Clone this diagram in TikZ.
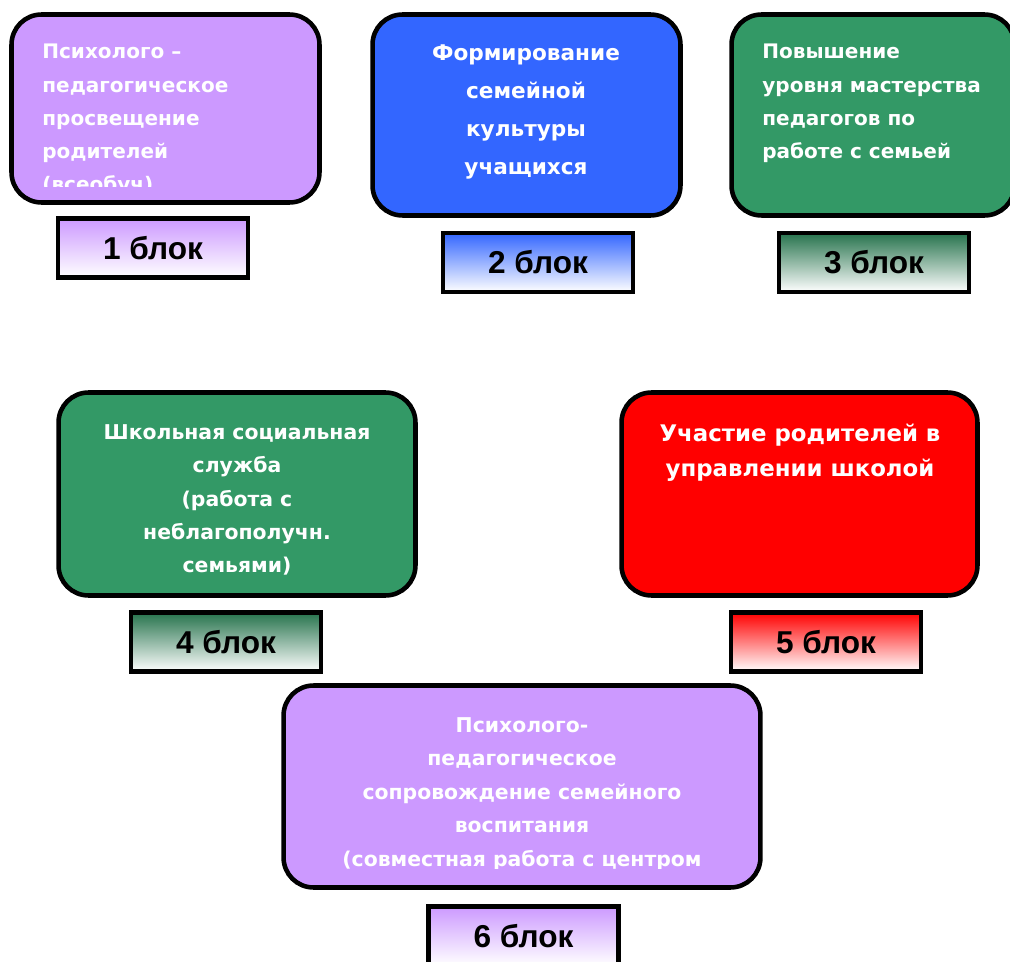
\documentclass[tikz,border=0pt]{standalone}
\usepackage{fontspec}
\newfontfamily\blockfont{DejaVu Sans}
\newfontfamily\tagfont{Liberation Sans}
\definecolor{lilac}{HTML}{CC99FF}
\definecolor{royal}{HTML}{3366FF}
\definecolor{sea}{HTML}{339966}
\definecolor{scarlet}{HTML}{FF0000}

\begin{document}
\begin{tikzpicture}[x=0.02cm,y=-0.02cm]
    \tikzstyle{blockbox}=[rectangle, rounded corners=0.6cm, draw=black, line width=2.6pt, inner sep=0pt]
    \tikzstyle{blocktext}=[inner sep=0pt, text=white, font=\blockfont\bfseries\fontsize{11.4}{18.9}\selectfont]
    \tikzstyle{tagbox}=[rectangle, draw=black, line width=2.6pt, minimum width=3.8cm, minimum height=1.18cm, bottom color=white, font=\tagfont\bfseries\fontsize{18}{20}\selectfont]

    \useasboundingbox (0,0) rectangle (1010,962);

    % top row
    \node[blockbox, fill=lilac, minimum width=6.16cm, minimum height=3.76cm] (b1) at (165.5,108.5) {};
    \begin{scope}
        \clip (20,20) rectangle (310,187);
        \node[blocktext, anchor=north west, align=left] (t1) at (42,44) {Психолого –\\педагогическое\\просвещение\\родителей\\(всеобуч)};
    \end{scope}
    \node[tagbox, top color=lilac] (l1) at (153,248) {1 блок};

    \node[blockbox, fill=royal, minimum width=6.16cm, minimum height=4.02cm] (b2) at (526.5,115) {};
    \node[blocktext, align=center, font=\blockfont\bfseries\fontsize{12.3}{21.5}\selectfont] (t2) at (526,112) {Формирование\\семейной\\культуры\\учащихся};
    \node[tagbox, top color=royal] (l2) at (538,262.5) {2 блок};

    \node[blockbox, fill=sea, minimum width=5.66cm, minimum height=4.02cm] (b3) at (873,115) {};
    \node[blocktext, anchor=north west, align=left] (t3) at (762,44) {Повышение\\уровня мастерства\\педагогов по\\работе с семьей};
    \node[tagbox, top color=sea!75!black] (l3) at (874,262.5) {3 блок};

    % middle row
    \node[blockbox, fill=sea, minimum width=7.14cm, minimum height=4.06cm] (b4) at (237,494) {};
    \node[blocktext, align=center, font=\blockfont\bfseries\fontsize{11.6}{19}\selectfont] (t4) at (237,500) {Школьная социальная\\служба\\(работа с\\неблагополучн.\\семьями)};
    \node[tagbox, top color=sea!75!black] (l4) at (226,642) {4 блок};

    \node[blockbox, fill=scarlet, minimum width=7.12cm, minimum height=4.06cm] (b5) at (799.5,494) {};
    \node[blocktext, align=center, font=\blockfont\bfseries\fontsize{13}{20}\selectfont] (t5) at (800,453) {Участие родителей в\\управлении школой};
    \node[tagbox, top color=scarlet] (l5) at (826,642) {5 блок};

    % bottom
    \node[blockbox, fill=lilac, minimum width=9.54cm, minimum height=4.04cm] (b6) at (522,786.5) {};
    \begin{scope}
        \clip (290,695) rectangle (755,868);
        \node[blocktext, anchor=north, align=center, font=\blockfont\bfseries\fontsize{11.6}{19.1}\selectfont] (t6) at (522,717) {Психолого-\\педагогическое\\сопровождение семейного\\воспитания\\(совместная работа с центром};
    \end{scope}
    \node[tagbox, top color=lilac] (l6) at (523.5,936) {6 блок};

\end{tikzpicture}
\end{document}
